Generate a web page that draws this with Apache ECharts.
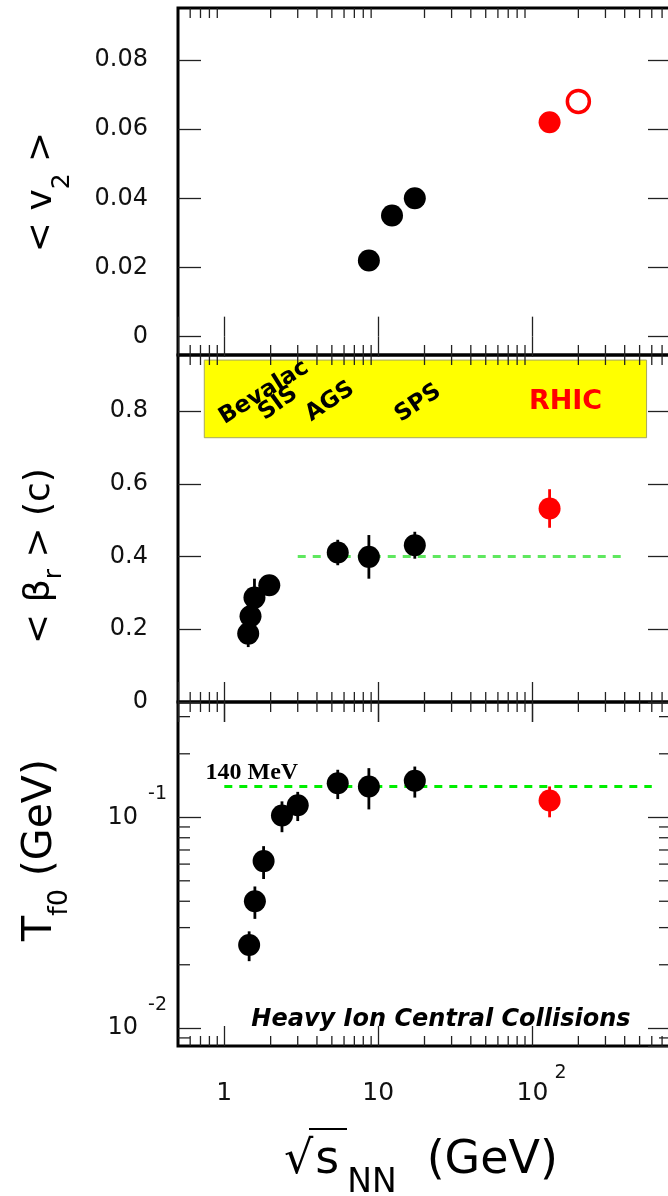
<!DOCTYPE html>
<html>
<head>
<meta charset="utf-8">
<script src="https://cdn.jsdelivr.net/npm/echarts@6/dist/echarts.min.js"></script>
<style>
  html, body { margin: 0; padding: 0; background: #fff; }
  #chart { width: 668px; height: 1196px; }
</style>
</head>
<body>
<div id="chart"></div>
<script>
// ---- measurements vs. collision energy sqrt(s_NN) in GeV ----
// elliptic flow <v2>
const v2Energy = [8.7, 12.3, 17.3];
const v2Value = [0.022, 0.035, 0.040];
const v2RhicEnergy = [130];
const v2RhicValue = [0.062];
const v2RhicOpenEnergy = [200];
const v2RhicOpenValue = [0.068];

// mean radial flow velocity <beta_r> (c)
const betaEnergy = [1.43, 1.48, 1.57, 1.96, 5.46, 8.7, 17.3];
const betaValue = [0.188, 0.236, 0.287, 0.321, 0.411, 0.399, 0.431];
const betaError = [0.037, 0.02, 0.052, 0.02, 0.035, 0.06, 0.037];
const betaRhicEnergy = [130];
const betaRhicValue = [0.532];
const betaRhicError = [0.053];

// kinetic freeze-out temperature T_fo (GeV)
const tEnergy = [1.45, 1.58, 1.80, 2.37, 3.0, 5.46, 8.7, 17.3];
const tValue = [0.0248, 0.040, 0.062, 0.102, 0.114, 0.145, 0.140, 0.149];
const tError = [0.004, 0.007, 0.011, 0.017, 0.018, 0.023, 0.031, 0.025];
const tRhicEnergy = [130];
const tRhicValue = [0.120];
const tRhicError = [0.020];

// reference levels
const betaPlateau = 0.40;
const betaPlateauSpan = [3, 400];
const tPlateau = 0.140;
const tPlateauSpan = [1, 600];

// axis ticks
const xMinorTicks = [0.6, 0.7, 0.8, 0.9, 2, 3, 4, 5, 6, 7, 8, 9,
  20, 30, 40, 50, 60, 70, 80, 90, 200, 300, 400, 500, 600, 700];
const v2Ticks = [0, 0.02, 0.04, 0.06, 0.08];
const v2TickLabels = ['0', '0.02', '0.04', '0.06', '0.08'];
const betaTicks = [0, 0.2, 0.4, 0.6, 0.8];
const betaTickLabels = ['0', '0.2', '0.4', '0.6', '0.8'];
const tMinorTicks = [0.009, 0.02, 0.03, 0.04, 0.05, 0.06, 0.07, 0.08, 0.09, 0.2, 0.3];

// ---- axis extents ----
const X_RANGE = [0.5, 800];
const V2_RANGE = [-0.0053, 0.095];
const BETA_RANGE = [0, 0.954];
const T_RANGE = [0.00824, 0.352];

const FONT = "'DejaVu Sans', sans-serif";
const INK = '#111';
const tickStyle = { color: '#222', width: 1.3 };
const MAJOR_X = 20, MINOR_X = 10, MAJOR_Y = 23, MINOR_Y = 12;

// accelerator band in the middle panel
const band = { from: [0.741, 0.7266], to: [555, 0.940] };
const accelerators = [
  { name: 'Bevalac', at: [1.81, 0.851], rotate: 32, color: '#000' },
  { name: 'SIS', at: [2.24, 0.821], rotate: 36, color: '#000' },
  { name: 'AGS', at: [4.86, 0.826], rotate: 34, color: '#000' },
  { name: 'SPS', at: [18.2, 0.821], rotate: 34, color: '#000' },
  { name: 'RHIC', at: [165, 0.826], rotate: 0, color: '#ff0000' }
];

const chart = echarts.init(document.getElementById('chart'), null, { renderer: 'canvas' });

const gridBox = { left: 178, width: 493, show: true, borderColor: '#000', borderWidth: 3,
  backgroundColor: 'transparent', containLabel: false, outerBoundsMode: 'none' };
const grids = [
  Object.assign({}, gridBox, { top: 8, height: 347 }),
  Object.assign({}, gridBox, { top: 355, height: 347 }),
  Object.assign({}, gridBox, { top: 702, height: 344 })
];

function isDecade(v) {
  const e = Math.log10(v);
  return Math.abs(e - Math.round(e)) < 1e-6;
}

function xLabel(v) {
  if (!isDecade(v)) return '';
  const e = Math.round(Math.log10(v));
  if (e === 0) return '{b|1}';
  if (e === 1) return '{b|10}';
  return '{bp|10}{s|' + e + '}';
}

function tLabel(v) {
  if (!isDecade(v)) return '';
  const e = Math.round(Math.log10(v));
  return '{b|10}{s|' + e + '}';
}

function xAxes(g, withLabels) {
  const base = {
    type: 'log', logBase: 10, gridIndex: g, min: X_RANGE[0], max: X_RANGE[1],
    axisLine: { show: false }, splitLine: { show: false },
    axisTick: { show: true, inside: true, length: MAJOR_X, lineStyle: tickStyle }
  };
  const bottomLabel = withLabels ? {
    show: true, margin: 14, showMinLabel: false, showMaxLabel: false,
    formatter: xLabel,
    rich: {
      b: { fontSize: 25, fontFamily: FONT, color: INK, lineHeight: 66 },
      bp: { fontSize: 25, fontFamily: FONT, color: INK, lineHeight: 66, padding: [0, 0, 0, 19] },
      s: { fontSize: 19, fontFamily: FONT, color: INK, padding: [0, 0, 40, 6] }
    }
  } : { show: false };
  return [
    Object.assign({}, base, { position: 'bottom', axisLabel: bottomLabel }),
    Object.assign({}, base, { position: 'top', axisLabel: { show: false } })
  ];
}

function linearYAxes(g, range, ticks, labels) {
  const base = {
    type: 'value', gridIndex: g, min: range[0], max: range[1],
    axisLine: { show: false }, splitLine: { show: false },
    axisTick: { show: true, inside: true, length: MAJOR_Y, lineStyle: tickStyle, customValues: ticks }
  };
  return [
    Object.assign({}, base, {
      position: 'left',
      axisLabel: {
        show: true, customValues: ticks, margin: 30, fontSize: 24, fontFamily: FONT, color: INK,
        formatter: function (v) {
          const i = ticks.findIndex(t => Math.abs(t - v) < 1e-9);
          return i >= 0 ? labels[i] : '';
        }
      }
    }),
    Object.assign({}, base, { position: 'right', axisLabel: { show: false } })
  ];
}

function logYAxes(g, range) {
  const base = {
    type: 'log', logBase: 10, gridIndex: g, min: range[0], max: range[1],
    axisLine: { show: false }, splitLine: { show: false },
    axisTick: { show: true, inside: true, length: MAJOR_Y, lineStyle: tickStyle }
  };
  return [
    Object.assign({}, base, {
      position: 'left',
      axisLabel: {
        show: true, margin: 11, showMinLabel: false, showMaxLabel: false,
        formatter: tLabel,
        rich: {
          b: { fontSize: 24, fontFamily: FONT, color: INK },
          s: { fontSize: 19, fontFamily: FONT, color: INK, padding: [0, 0, 46, 10] }
        }
      }
    }),
    Object.assign({}, base, { position: 'right', axisLabel: { show: false } })
  ];
}

// short minor tick marks on all four sides, placed through the panel's own axes
function minorTicks(g, yRef, yMinor) {
  const xRef = 10;
  const data = xMinorTicks.map(v => [v, yRef, 0]).concat((yMinor || []).map(v => [xRef, v, 1]));
  return {
    type: 'custom', xAxisIndex: 2 * g, yAxisIndex: 2 * g, silent: true, z: 1,
    data: data,
    renderItem: function (params, api) {
      const cs = params.coordSys;
      const p = api.coord([api.value(0), api.value(1)]);
      const style = { stroke: tickStyle.color, lineWidth: tickStyle.width };
      if (api.value(2) === 0) {
        const yb = cs.y + cs.height, yt = cs.y;
        return { type: 'group', children: [
          { type: 'line', shape: { x1: p[0], y1: yb, x2: p[0], y2: yb - MINOR_X }, style: style },
          { type: 'line', shape: { x1: p[0], y1: yt, x2: p[0], y2: yt + MINOR_X }, style: style }
        ] };
      }
      const xl = cs.x, xr = cs.x + cs.width;
      return { type: 'group', children: [
        { type: 'line', shape: { x1: xl, y1: p[1], x2: xl + MINOR_Y, y2: p[1] }, style: style },
        { type: 'line', shape: { x1: xr, y1: p[1], x2: xr - MINOR_Y, y2: p[1] }, style: style }
      ] };
    }
  };
}

function errorBars(g, energy, value, error, color) {
  return {
    type: 'custom', xAxisIndex: 2 * g, yAxisIndex: 2 * g, silent: true, z: 3,
    data: energy.map((e, i) => [e, value[i] - error[i], value[i] + error[i]]),
    encode: { x: 0, y: [1, 2] },
    renderItem: function (params, api) {
      const lo = api.coord([api.value(0), api.value(1)]);
      const hi = api.coord([api.value(0), api.value(2)]);
      return { type: 'line', shape: { x1: lo[0], y1: lo[1], x2: hi[0], y2: hi[1] },
        style: { stroke: color, lineWidth: 2.8 } };
    }
  };
}

function points(g, energy, value, color, open) {
  return {
    type: 'scatter', xAxisIndex: 2 * g, yAxisIndex: 2 * g, z: 4, silent: true,
    symbol: 'circle', symbolSize: 22,
    itemStyle: open
      ? { color: '#fff', borderColor: color, borderWidth: 3.5, opacity: 1 }
      : { color: color, opacity: 1 },
    data: energy.map((e, i) => [e, value[i]])
  };
}

function plateau(g, span, level, color) {
  return {
    type: 'line', xAxisIndex: 2 * g, yAxisIndex: 2 * g, z: 2, silent: true,
    symbol: 'none', data: span.map(x => [x, level]),
    lineStyle: { color: color, width: 3, type: [8, 7], opacity: 1 }
  };
}

function textMarks(g, items) {
  return {
    type: 'scatter', xAxisIndex: 2 * g, yAxisIndex: 2 * g, z: 5, silent: true,
    symbolSize: 1, itemStyle: { color: 'rgba(0,0,0,0)', opacity: 1 },
    data: items
  };
}

const series = [
  // top panel: <v2>
  minorTicks(0, 0.05),
  points(0, v2Energy, v2Value, '#000', false),
  points(0, v2RhicEnergy, v2RhicValue, '#ff0000', false),
  points(0, v2RhicOpenEnergy, v2RhicOpenValue, '#ff0000', true),

  // middle panel: <beta_r>
  minorTicks(1, 0.5),
  Object.assign(plateau(1, betaPlateauSpan, betaPlateau, '#5fe85f'), {
    markArea: {
      silent: true,
      itemStyle: { color: '#ffff00', borderColor: '#a8a860', borderWidth: 1, opacity: 1 },
      data: [[{ coord: band.from }, { coord: band.to }]]
    }
  }),
  textMarks(1, accelerators.map(a => ({
    name: a.name, value: a.at,
    label: {
      show: true, position: 'inside', formatter: '{b}', rotate: a.rotate, color: a.color, opacity: 1,
      fontFamily: FONT, fontWeight: 'bold', fontSize: a.name === 'RHIC' ? 27 : 23
    }
  }))),
  errorBars(1, betaEnergy, betaValue, betaError, '#000'),
  errorBars(1, betaRhicEnergy, betaRhicValue, betaRhicError, '#ff0000'),
  points(1, betaEnergy, betaValue, '#000', false),
  points(1, betaRhicEnergy, betaRhicValue, '#ff0000', false),

  // bottom panel: T_fo
  minorTicks(2, 0.05, tMinorTicks),
  plateau(2, tPlateauSpan, tPlateau, '#00ee00'),
  textMarks(2, [
    { name: '140 MeV', value: [0.749, 0.163],
      label: { show: true, position: 'right', distance: 0, formatter: '{b}', color: '#000', opacity: 1,
        fontFamily: "'Liberation Serif', 'DejaVu Serif', serif", fontWeight: 'bold', fontSize: 24 } },
    { name: 'Heavy Ion Central Collisions', value: [25.6, 0.01095],
      label: { show: true, position: 'inside', formatter: '{b}', color: '#000', opacity: 1,
        fontFamily: FONT, fontWeight: 'bold', fontStyle: 'italic', fontSize: 24 } }
  ]),
  errorBars(2, tEnergy, tValue, tError, '#000'),
  errorBars(2, tRhicEnergy, tRhicValue, tRhicError, '#ff0000'),
  points(2, tEnergy, tValue, '#000', false),
  points(2, tRhicEnergy, tRhicValue, '#ff0000', false)
];

const option = {
  animation: false,
  backgroundColor: '#fff',
  grid: grids,
  xAxis: [].concat(xAxes(0, false), xAxes(1, false), xAxes(2, true)),
  yAxis: [].concat(
    linearYAxes(0, V2_RANGE, v2Ticks, v2TickLabels),
    linearYAxes(1, BETA_RANGE, betaTicks, betaTickLabels),
    logYAxes(2, T_RANGE)
  ),
  series: series,
  graphic: [
    {
      type: 'text', x: 42, y: 192, rotation: Math.PI / 2, silent: true,
      style: {
        text: '{m|< v}{sub|2}{m| >}', align: 'center', verticalAlign: 'middle', fill: '#000',
        rich: {
          m: { fontSize: 36, fontFamily: FONT },
          sub: { fontSize: 25, fontFamily: FONT, padding: [40, 0, 0, 0] }
        }
      }
    },
    {
      type: 'text', x: 40, y: 556, rotation: Math.PI / 2, silent: true,
      style: {
        text: '{m|< β}{sub|r}{m| > (c)}', align: 'center', verticalAlign: 'middle', fill: '#000',
        rich: {
          m: { fontSize: 36, fontFamily: FONT },
          sub: { fontSize: 25, fontFamily: FONT, padding: [28, 0, 0, 0] }
        }
      }
    },
    {
      type: 'text', x: 40, y: 850, rotation: Math.PI / 2, silent: true,
      style: {
        text: '{m|T}{sub|f0}{m| (GeV)}', align: 'center', verticalAlign: 'middle', fill: '#000',
        rich: {
          m: { fontSize: 41, fontFamily: FONT },
          sub: { fontSize: 27, fontFamily: FONT, padding: [40, 0, 0, 0] }
        }
      }
    },
    {
      type: 'text', x: 421, y: 1161, silent: true,
      style: {
        text: '{r|√}{m|s}{sub|NN}{g|(GeV)}', align: 'center', verticalAlign: 'middle', fill: '#000',
        rich: {
          r: { fontSize: 46, fontFamily: FONT, padding: [0, 2, 0, 0] },
          m: { fontSize: 46, fontFamily: FONT },
          sub: { fontSize: 33, fontFamily: FONT, padding: [44, 0, 0, 8] },
          g: { fontSize: 46, fontFamily: FONT, padding: [0, 0, 0, 30] }
        }
      }
    },
    {
      type: 'line', silent: true,
      shape: { x1: 309, y1: 1129, x2: 347, y2: 1129 },
      style: { stroke: '#000', lineWidth: 2 }
    }
  ]
};

chart.setOption(option);
</script>
</body>
</html>
